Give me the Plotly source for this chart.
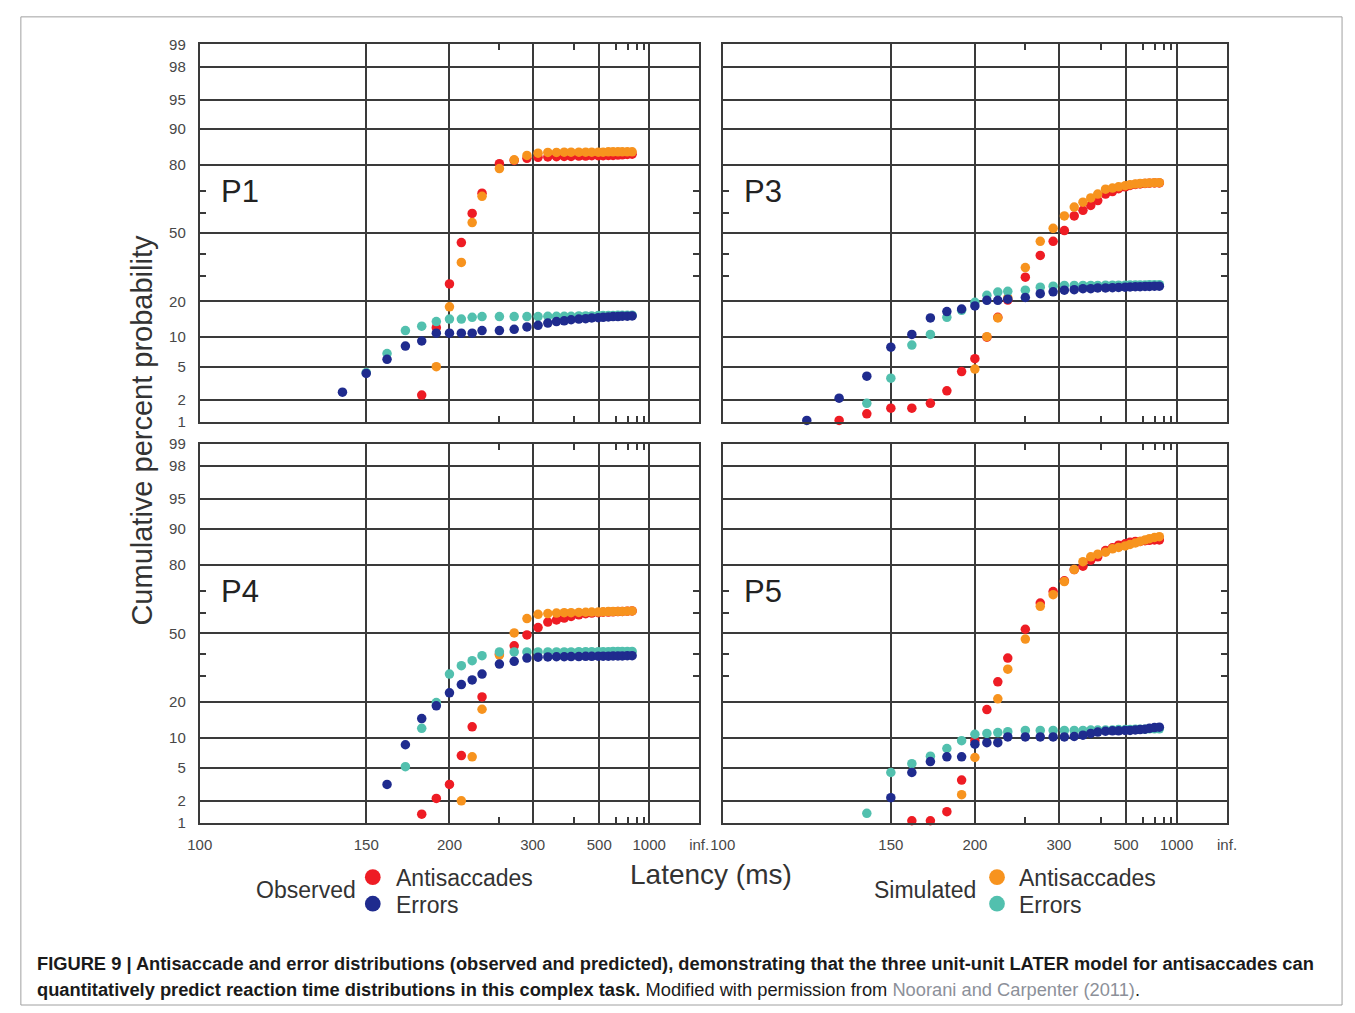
import plotly.graph_objects as go
from statistics import NormalDist

# ---------------- data ----------------
LAT = [120, 130, 140, 150, 160, 170, 180, 190, 200, 210, 220, 230, 250, 270, 290, 310,
       330, 350, 370, 390, 415, 440, 465, 495, 520, 550, 580, 615, 650, 695, 745]

N = None
# P1
P1_OBS_ANTI = [N, N, N, N, N, N, 2.3, 12.2, 26.6, 45.4, 59.6, 68.9, 80.4, 81.5, 82.2, 82.5,
               82.6, 82.7, 82.8, 82.8, 82.9, 82.9, 83.0, 83.0, 83.0, 83.1, 83.1, 83.2, 83.3, 83.4, 83.5]
P1_SIM_ANTI = [N, N, N, N, N, N, N, 5.0, 18.2, 35.9, 55.2, 67.5, 78.7, 81.7, 83.1, 83.8,
               84.0, 84.0, 84.1, 84.1, 84.1, 84.1, 84.1, 84.1, 84.1, 84.2, 84.2, 84.2, 84.2, 84.2, 84.2]
P1_OBS_ERR = [N, N, 2.5, 4.2, 6.0, 8.2, 9.2, 10.9, 10.9, 10.9, 10.9, 11.5, 11.5, 11.8, 12.4, 12.8,
              13.4, 13.8, 14.0, 14.3, 14.5, 14.6, 14.8, 14.9, 15.0, 15.1, 15.2, 15.2, 15.3, 15.3, 15.4]
P1_SIM_ERR = [N, N, N, 4.3, 6.9, 11.5, 12.6, 13.8, 14.5, 14.5, 15.0, 15.2, 15.2, 15.2, 15.2, 15.2,
              15.3, 15.3, 15.3, 15.3, 15.4, 15.4, 15.4, 15.5, 15.5, 15.5, 15.5, 15.6, 15.6, 15.6, 15.6]
# P3
P3_OBS_ANTI = [N, 1.05, 1.3, 1.55, 1.55, 1.8, 2.6, 4.4, 6.1, 10.0, 15.0, 20.5, 29.4, 39.2, 46.0, 51.3,
               58.4, 61.1, 63.4, 65.6, 68.5, 69.6, 70.8, 71.6, 72.2, 72.6, 72.8, 73.0, 73.1, 73.2, 73.2]
P3_SIM_ANTI = [N, N, N, N, N, N, N, N, 4.7, 10.1, 14.8, 21.3, 33.6, 46.0, 52.4, 58.4,
               62.6, 64.9, 66.8, 68.5, 70.6, 71.1, 71.6, 72.1, 72.5, 72.8, 73.0, 73.1, 73.2, 73.3, 73.3]
P3_OBS_ERR = [1.05, 2.1, 3.9, 8.0, 10.6, 14.8, 16.7, 17.5, 18.5, 20.4, 20.4, 20.8, 21.4, 22.8, 23.5, 24.1,
              24.3, 24.7, 24.7, 25.0, 25.0, 25.1, 25.2, 25.3, 25.4, 25.5, 25.5, 25.6, 25.6, 25.7, 25.7]
P3_SIM_ERR = [N, N, 1.8, 3.7, 8.4, 10.6, 15.0, 17.1, 19.7, 22.2, 23.4, 23.7, 24.1, 25.3, 25.7, 26.0,
              26.0, 26.0, 26.0, 26.0, 26.1, 26.1, 26.1, 26.1, 26.2, 26.2, 26.2, 26.2, 26.3, 26.3, 26.3]
# P4
P4_OBS_ANTI = [N, N, N, N, N, N, 1.33, 2.15, 3.2, 6.7, 12.6, 21.8, 40.0, 43.9, 49.2, 52.8,
               55.5, 56.5, 57.4, 58.2, 59.0, 59.5, 59.8, 60.0, 60.2, 60.3, 60.4, 60.5, 60.6, 60.7, 60.8]
P4_SIM_ANTI = [N, N, N, N, N, N, N, N, N, 2.0, 6.5, 17.6, 39.5, 50.2, 57.2, 59.2,
               59.6, 59.8, 60.0, 60.0, 60.1, 60.2, 60.3, 60.3, 60.4, 60.5, 60.5, 60.6, 60.6, 60.7, 60.8]
P4_OBS_ERR = [N, N, N, N, 3.2, 8.6, 14.8, 18.7, 23.3, 26.5, 28.4, 30.9, 35.3, 36.6, 38.1, 38.5,
              38.6, 38.7, 38.7, 38.8, 38.8, 38.9, 38.9, 39.0, 39.0, 39.0, 39.1, 39.1, 39.1, 39.2, 39.2]
P4_SIM_ERR = [N, N, N, N, N, 5.1, 12.2, 19.8, 30.9, 34.6, 36.9, 39.2, 41.0, 41.0, 41.0, 41.0,
              41.0, 41.0, 41.0, 41.0, 41.1, 41.1, 41.1, 41.1, 41.1, 41.1, 41.2, 41.2, 41.2, 41.2, 41.2]
# P5
P5_OBS_ANTI = [N, N, N, N, 1.08, 1.08, 1.44, 3.6, 9.4, 17.5, 27.6, 38.1, 52.0, 64.5, 69.6, 74.0,
               78.3, 79.5, 81.5, 82.6, 84.5, 85.3, 86.0, 86.4, 86.8, 87.0, 87.0, 87.2, 87.3, 87.4, 87.4]
P5_SIM_ANTI = [N, N, N, N, N, N, N, 2.4, 6.4, N, 21.1, 33.0, 47.2, 63.0, 68.2, 73.7,
               78.3, 81.0, 82.6, 83.4, 84.0, 85.0, 85.4, 85.8, 86.2, 86.6, 87.0, 87.4, 87.7, 88.0, 88.2]
P5_OBS_ERR = [N, N, N, 2.2, 4.4, 5.8, 6.5, 6.5, 8.7, 9.0, 9.0, 10.2, 10.2, 10.2, 10.2, 10.2,
              10.3, 10.6, 11.0, 11.3, 11.5, 11.6, 11.6, 11.7, 11.7, 11.8, 11.9, 12.0, 12.2, 12.4, 12.5]
P5_SIM_ERR = [N, N, 1.37, 4.4, 5.5, 6.6, 7.9, 9.4, 10.8, 11.0, 11.2, 11.4, 11.7, 11.7, 11.7, 11.7,
              11.7, 11.7, 11.8, 11.8, 11.8, 11.8, 11.9, 11.9, 11.9, 12.0, 12.0, 12.0, 12.1, 12.1, 12.1]

PANEL_NAMES = ["P1", "P3", "P4", "P5"]
X_TICKS = [100, 150, 200, 300, 500, 1000, float("inf")]
X_LABELS = ["100", "150", "200", "300", "500", "1000", "inf."]
X_MINOR = [250, 400, 600, 700, 800, 900]
Y_TICKS = [1, 2, 5, 10, 20, 50, 80, 90, 95, 98, 99]
Y_MINOR = [30, 40, 60, 70]

SERIES_NAMES = ["Observed Antisaccades", "Simulated Antisaccades", "Simulated Errors", "Observed Errors"]
COLORS = {"Observed Antisaccades": "#ee1c24", "Observed Errors": "#1f2b8e",
          "Simulated Antisaccades": "#f7931e", "Simulated Errors": "#52c0ae"}

PANEL_DATA = {
    "P1": {"Observed Antisaccades": P1_OBS_ANTI, "Simulated Antisaccades": P1_SIM_ANTI,
           "Observed Errors": P1_OBS_ERR, "Simulated Errors": P1_SIM_ERR},
    "P3": {"Observed Antisaccades": P3_OBS_ANTI, "Simulated Antisaccades": P3_SIM_ANTI,
           "Observed Errors": P3_OBS_ERR, "Simulated Errors": P3_SIM_ERR},
    "P4": {"Observed Antisaccades": P4_OBS_ANTI, "Simulated Antisaccades": P4_SIM_ANTI,
           "Observed Errors": P4_OBS_ERR, "Simulated Errors": P4_SIM_ERR},
    "P5": {"Observed Antisaccades": P5_OBS_ANTI, "Simulated Antisaccades": P5_SIM_ANTI,
           "Observed Errors": P5_OBS_ERR, "Simulated Errors": P5_SIM_ERR},
}

# ---------------- scales ----------------
_nd = NormalDist()


def probit(p):
    return _nd.inv_cdf(p / 100.0)


def promptness(t):
    return -1000.0 / t  # reciprocal latency (s^-1), inf -> 0


W, H = 1355, 1013


def px(xp):
    return xp / W


def py(yp):
    return 1 - yp / H


GRID = "#3a3a3a"
FONT = "Liberation Sans, Arial, sans-serif"
TICKFONT = dict(family=FONT, size=15, color="#474747")

fig = go.Figure()

axes_ids = ["", "2", "3", "4"]
x_domains = [[px(190), px(698)], [px(722), px(1235)], [px(190), px(698)], [px(722), px(1235)]]
y_domains = [[py(420), py(36)], [py(420), py(36)], [py(828), py(442)], [py(828), py(442)]]

for i, name in enumerate(PANEL_NAMES):
    aid = axes_ids[i]
    for s in SERIES_NAMES:
        vals = PANEL_DATA[name][s]
        xs = [promptness(t) for t, v in zip(LAT, vals) if v is not None]
        ys = [probit(v) for v in vals if v is not None]
        fig.add_trace(go.Scatter(
            x=xs, y=ys, mode="markers", name=s, showlegend=False,
            xaxis="x" + aid, yaxis="y" + aid, cliponaxis=False,
            marker=dict(size=9.5, color=COLORS[s], line=dict(width=0)),
            hoverinfo="skip"))

    bottom = i >= 2
    left = i % 2 == 0
    fig.layout["xaxis" + aid] = dict(
        domain=x_domains[i], anchor="y" + aid, range=[promptness(100), 0],
        tickvals=[promptness(t) for t in X_TICKS], ticktext=X_LABELS,
        showticklabels=bottom, tickfont=TICKFONT,
        ticks="outside", ticklen=7, tickcolor="rgba(0,0,0,0)",
        showgrid=True, gridcolor=GRID, gridwidth=2,
        showline=True, linecolor=GRID, linewidth=2, mirror="allticks",
        zeroline=False, fixedrange=True,
        minor=dict(tickvals=[promptness(t) for t in X_MINOR], ticks="inside",
                   ticklen=6, tickcolor=GRID, tickwidth=2, showgrid=False),
    )
    fig.layout["yaxis" + aid] = dict(
        domain=y_domains[i], anchor="x" + aid, range=[probit(1), probit(99)],
        tickvals=[probit(p) for p in Y_TICKS], ticktext=[str(p) for p in Y_TICKS],
        showticklabels=left, tickfont=TICKFONT,
        ticks="outside", ticklen=9, tickcolor="rgba(0,0,0,0)",
        showgrid=True, gridcolor=GRID, gridwidth=2,
        showline=True, linecolor=GRID, linewidth=2, mirror="allticks",
        zeroline=False, fixedrange=True,
        minor=dict(tickvals=[probit(p) for p in Y_MINOR], ticks="inside",
                   ticklen=6, tickcolor=GRID, tickwidth=2, showgrid=False),
    )
    fig.add_annotation(text=name, xref="x" + aid + " domain", yref="y" + aid + " domain",
                       x=0.08, y=0.61, xanchor="center", yanchor="middle", showarrow=False,
                       font=dict(family=FONT, size=31, color="#222222"))

annots = [
    dict(text="Cumulative percent probability", x=px(131), y=py(428), textangle=-90,
         font=dict(family=FONT, size=29, color="#333333")),
    dict(text="Latency (ms)", x=px(710), y=py(880), font=dict(family=FONT, size=28, color="#333333")),
    dict(text="Observed", x=px(298), y=py(896), font=dict(family=FONT, size=23, color="#333333")),
    dict(text="Antisaccades", x=px(388), y=py(884), xanchor="left", font=dict(family=FONT, size=23, color="#333333")),
    dict(text="Errors", x=px(388), y=py(911), xanchor="left", font=dict(family=FONT, size=23, color="#333333")),
    dict(text="Simulated", x=px(928), y=py(896), font=dict(family=FONT, size=23, color="#333333")),
    dict(text="Antisaccades", x=px(1021), y=py(884), xanchor="left", font=dict(family=FONT, size=23, color="#333333")),
    dict(text="Errors", x=px(1021), y=py(911), xanchor="left", font=dict(family=FONT, size=23, color="#333333")),
    dict(text="<b>FIGURE 9 | Antisaccade and error distributions (observed and predicted), demonstrating that the three unit-unit LATER model for antisaccades can</b>",
         x=px(22), y=py(971), xanchor="left", font=dict(family=FONT, size=18.3, color="#1a1a1a")),
    dict(text="<b>quantitatively predict reaction time distributions in this complex task.</b> Modified with permission from <span style='color:#8c9099'>Noorani and Carpenter (2011)</span>.",
         x=px(22), y=py(997), xanchor="left", font=dict(family=FONT, size=18.3, color="#1a1a1a")),
]
for a in annots:
    a.setdefault("xanchor", "center")
    fig.add_annotation(xref="paper", yref="paper", yanchor="middle", showarrow=False, **a)

# legend dots
LEGEND_DOTS = [(366, 883, "Observed Antisaccades"), (366, 910, "Observed Errors"),
               (1001, 883, "Simulated Antisaccades"), (1001, 910, "Simulated Errors")]
for cx, cy, s in LEGEND_DOTS:
    r = 8
    fig.add_shape(type="circle", xref="paper", yref="paper",
                  x0=px(cx - r), x1=px(cx + r), y0=py(cy + r), y1=py(cy - r),
                  fillcolor=COLORS[s], line=dict(width=0))

# figure frame
fig.add_shape(type="rect", xref="paper", yref="paper", x0=px(8), x1=px(1352), y0=py(1013), y1=py(8),
              line=dict(color="#a0a0a0", width=1), fillcolor="rgba(0,0,0,0)", layer="below")

fig.update_layout(width=W, height=H, margin=dict(l=0, r=0, t=0, b=0, pad=0),
                  paper_bgcolor="white", plot_bgcolor="white", showlegend=False)

fig.write_html("out.html", config={"displayModeBar": False},
               post_script="document.body.style.margin='0';document.body.style.overflow='hidden';")
